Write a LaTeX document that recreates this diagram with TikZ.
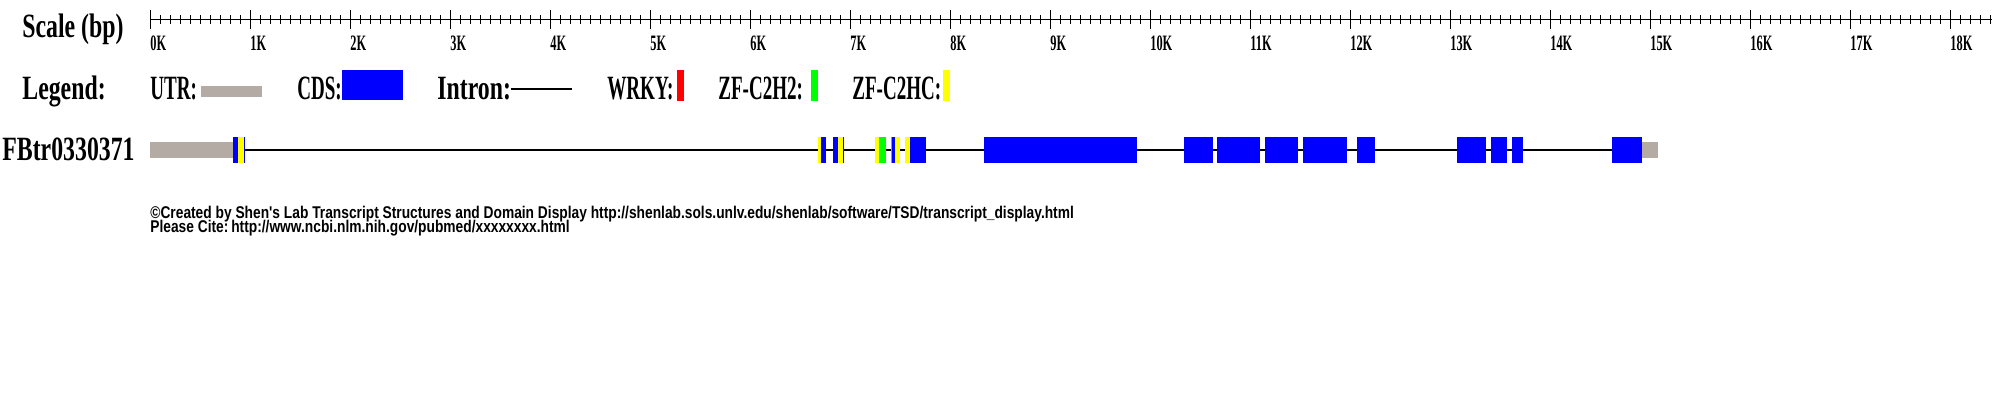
\documentclass[tikz,border=0pt]{standalone}
\usepackage{fontspec}
\newfontfamily\tsdfont{Liberation Serif}[FakeStretch=0.70]
\newfontfamily\tsdcapfont{Liberation Serif}[FakeStretch=0.56]
\newfontfamily\footfont{Liberation Sans}[FakeStretch=0.81]
\definecolor{utrgray}{HTML}{B3ABA4}
\definecolor{cdsblue}{HTML}{0000FF}
\definecolor{wrkyred}{HTML}{FF0000}
\definecolor{zfgreen}{HTML}{00FF00}
\definecolor{zfyellow}{HTML}{FFFF00}
\tikzset{
  headlabel/.style={anchor=base west,inner sep=0pt,
              font=\tsdfont\bfseries\fontsize{17}{17}\selectfont},
  keylabel/.style={anchor=base west,inner sep=0pt,
              font=\tsdcapfont\bfseries\fontsize{17}{17}\selectfont},
  txlabel/.style={anchor=base west,inner sep=0pt,
              font=\tsdfont\bfseries\fontsize{17}{17}\selectfont},
  ticklabel/.style={anchor=base west,inner sep=0pt,
              font=\tsdcapfont\bfseries\fontsize{11}{11}\selectfont},
  credit/.style={anchor=base west,inner sep=0pt,
              font=\footfont\bfseries\fontsize{8.5}{8.5}\selectfont},
  axisline/.style={line width=0.5pt,black},
  intron/.style={line width=1.3pt,black},
  utr/.style={fill=utrgray},
  cds/.style={fill=cdsblue},
  wrky/.style={fill=wrkyred},
  zfhh/.style={fill=zfgreen},
  zfhc/.style={fill=zfyellow},
}
\begin{document}
\begin{tikzpicture}[x=0.5pt,y=-0.5pt]
  \useasboundingbox (0,0) rectangle (2000,407);
  % scale bar
  \node[headlabel] (scale) at (22,37) {Scale (bp)};
  \coordinate (ax0) at (150,19);
  \coordinate (ax1) at (1992,19);
  \draw[axisline] (ax0) -- (ax1);
  \foreach \i in {0,...,184}
     \draw[axisline] (150+\i*10,15) -- (150+\i*10,24);
  \foreach \k in {0,...,18}{
     \draw[axisline] (150+\k*100,10) -- (150+\k*100,29);
     \node[ticklabel] (k\k) at (150+\k*100,50) {\k K};
  }
  % legend
  \node[headlabel] (legend) at (22,99) {Legend:};
  \node[keylabel] (lutr) at (150,99) {UTR:};
  \fill[utr] (201,86) rectangle (262,97);
  \node[keylabel] (lcds) at (297,99) {CDS:};
  \fill[cds] (342,70) rectangle (403,100);
  \node[headlabel] (lint) at (437,99) {Intron:};
  \coordinate (intA) at (511,89);
  \coordinate (intB) at (572,89);
  \draw[intron] (intA) -- (intB);
  \node[keylabel] (lwrky) at (607,99) {WRKY:};
  \fill[wrky] (677,70) rectangle (684,101);
  \node[keylabel] (lzfhh) at (718,99) {ZF-C2H2:};
  \fill[zfhh] (811,70) rectangle (818,101);
  \node[keylabel] (lzfhc) at (852,99) {ZF-C2HC:};
  \fill[zfhc] (943,70) rectangle (950,101);
  % transcript
  \node[txlabel] (tx) at (2,160) {FBtr0330371};
  \coordinate (txA) at (233,150);
  \coordinate (txB) at (1642,150);
  \draw[intron] (txA) -- (txB);
  \fill[utr] (150,142) rectangle (233,158);
  \fill[utr] (1642,142) rectangle (1658,158);
  \foreach \a/\b in {233/245,818/826,833/844,875/886,891/900,905/926,
                     984/1137,1184/1213,1217/1260,1265/1298,1303/1347,
                     1357/1375,1457/1486,1491/1507,1512/1523,1612/1642}
     \fill[cds] (\a,137) rectangle (\b,163);
  % domains
  \foreach \a/\b/\d in {238/244/zfhc,818/821/zfhc,838/843/zfhc,875/879/zfhc,
                        879/886/zfhh,891/892/zfhh,895/900/zfhc,905/910/zfhc}
     \fill[\d] (\a,137) rectangle (\b,163);
  % credits
  \node[credit] (made) at (150,218) {©Created by Shen's Lab Transcript Structures and Domain Display http://shenlab.sols.unlv.edu/shenlab/software/TSD/transcript\_display.html};
  \node[credit] (cite) at (150,232) {Please Cite:\,http://www.ncbi.nlm.nih.gov/pubmed/xxxxxxxx.html};
\end{tikzpicture}
\end{document}
